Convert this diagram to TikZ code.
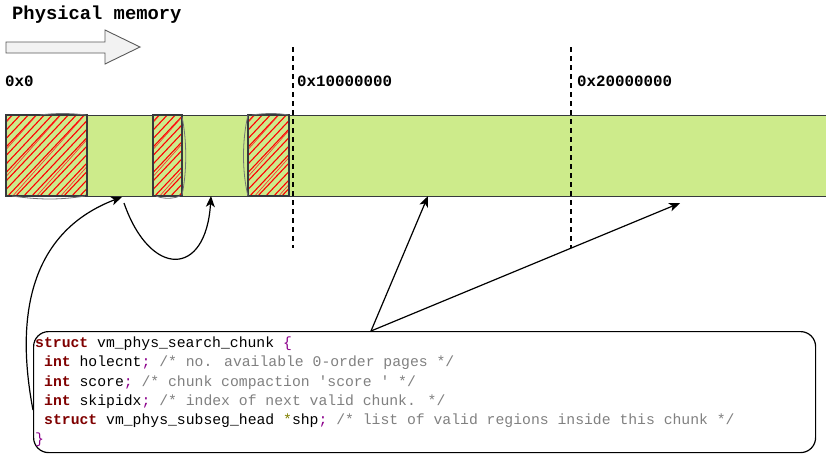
\documentclass[tikz,border=0pt]{standalone}
\usepackage{fontspec}
\usetikzlibrary{arrows.meta}
\newfontfamily\monofont{Liberation Mono}
\definecolor{barfill}{HTML}{CDEB8B}
\definecolor{barline}{HTML}{36393D}
\definecolor{kwcol}{HTML}{7F0000}
\definecolor{pncol}{HTML}{8B008B}
\definecolor{cmcol}{HTML}{808080}
\definecolor{ptcol}{HTML}{808000}
\definecolor{bigarrow}{HTML}{F2F2F2}
\newcommand{\ckw}[1]{\textcolor{kwcol}{\bfseries #1}}
\newcommand{\cpn}[1]{\textcolor{pncol}{#1}}
\newcommand{\ccm}[1]{\textcolor{cmcol}{#1}}
\newcommand{\cpt}[1]{\textcolor{ptcol}{#1}}
\begin{document}
\begin{tikzpicture}[x=1pt,y=-1pt,
  membar/.style={draw=barline,fill=barfill,line width=1.3pt,inner sep=0pt,anchor=north west},
  hatchbox/.style={draw=barline,line width=1.4pt},
  sketch/.style={draw=barline!70,line width=0.8pt},
  hatchline/.style={red,line width=1.1pt},
  boundary/.style={draw=black,line width=1.6pt,dash pattern=on 5pt off 4pt},
  hexlabel/.style={font=\monofont\bfseries\fontsize{15.8}{18}\selectfont,anchor=base west,inner sep=0pt},
  codeline/.style={font=\monofont\fontsize{14.75}{19}\selectfont,anchor=base west,inner sep=0pt},
  codebox/.style={draw=black,line width=1.2pt,rounded corners=15pt,inner sep=0pt,anchor=north west},
  link/.style={draw=black,line width=1.2pt,-{Stealth[length=11pt,width=9pt,inset=3pt]}}]
\useasboundingbox (0,0) rectangle (826,453);

% title and direction arrow
\node[font=\monofont\bfseries\fontsize{18.8}{20}\selectfont,anchor=base west,inner sep=0pt] (title) at (12,19) {Physical memory};
\draw[fill=bigarrow,draw=black!65,line width=0.9pt]
  (6,42) -- (105,42) -- (105,30) -- (140,47) -- (105,64) -- (105,53) -- (6,53) -- cycle;

% address labels
\node[hexlabel] (a0) at (5,86) {0x0};
\node[hexlabel] (a1) at (297,86) {0x10000000};
\node[hexlabel] (a2) at (577,86) {0x20000000};

% the physical memory strip
\node[membar,minimum width=830pt,minimum height=81pt] (mem) at (6,115) {};

% hatched (occupied) regions
\foreach \xa/\xb in {6/87, 153/182, 248/289}{
  \begin{scope}
    \clip (\xa,115) rectangle (\xb,196);
    \foreach \i in {-120,-112,...,100}{
      \draw[hatchline] (\xa+\i,198) -- ++(100,-106);
    }
    \foreach \i in {-115,-91,...,100}{
      \draw[hatchline,line width=0.6pt,red!85] (\xa+\i,198) -- ++(96,-108);
    }
  \end{scope}
  \draw[hatchbox] (\xa,115) rectangle (\xb,196);
}
% loose sketch strokes round the regions
\draw[sketch] (12,196) .. controls (40,200) and (60,200) .. (85,196);
\draw[sketch] (40,115) .. controls (55,113) and (70,113) .. (86,115);
\draw[sketch] (182,117) .. controls (187,140) and (187,172) .. (182,195);
\draw[sketch] (156,196) .. controls (163,199) and (173,199) .. (180,196);
\draw[sketch] (248,115) .. controls (242,140) and (242,172) .. (248,196);
\draw[sketch] (252,115) .. controls (265,113) and (278,113) .. (288,115);

% 256 MiB boundaries
\coordinate (b1t) at (293,47);
\coordinate (b1b) at (293,248);
\coordinate (b2t) at (571,47);
\coordinate (b2b) at (571,248);
\draw[boundary] (b1t) -- (b1b);
\draw[boundary] (b2t) -- (b2b);

% the chunk descriptor
\node[codebox,minimum width=782pt,minimum height=121pt] (cbox) at (33,331) {};
\node[codeline] (l1) at (35,347) {\ckw{struct} vm\_phys\_search\_chunk \cpn{\{}};
\node[codeline] (l2) at (44,366.5) {\ckw{int} holecnt\cpn{;} \ccm{/* no. available 0-order pages */}};
\node[codeline] (l3) at (44,386) {\ckw{int} score\cpn{;} \ccm{/* chunk compaction 'score ' */}};
\node[codeline] (l4) at (44,405.5) {\ckw{int} skipidx\cpn{;} \ccm{/* index of next valid chunk. */}};
\node[codeline] (l5) at (44,424) {\ckw{struct} vm\_phys\_subseg\_head \cpt{*}shp\cpn{;} \ccm{/* list of valid regions inside this chunk */}};
\node[codeline] (l6) at (35,443) {\cpn{\}}};

% connectors
\coordinate (s1) at (33,410);
\coordinate (t1) at (122,197);
\coordinate (s2) at (124,203);
\coordinate (t2) at (211,196);
\coordinate (apex) at (371,331);
\coordinate (t3) at (428,196);
\coordinate (t4) at (680,203);
\draw[link] (s1) .. controls (12,300) and (40,228) .. (t1);
\draw[link] (s2) .. controls (150,278) and (206,278) .. (t2);
\draw[link] (apex) -- (t3);
\draw[link] (apex) -- (t4);
\end{tikzpicture}
\end{document}
